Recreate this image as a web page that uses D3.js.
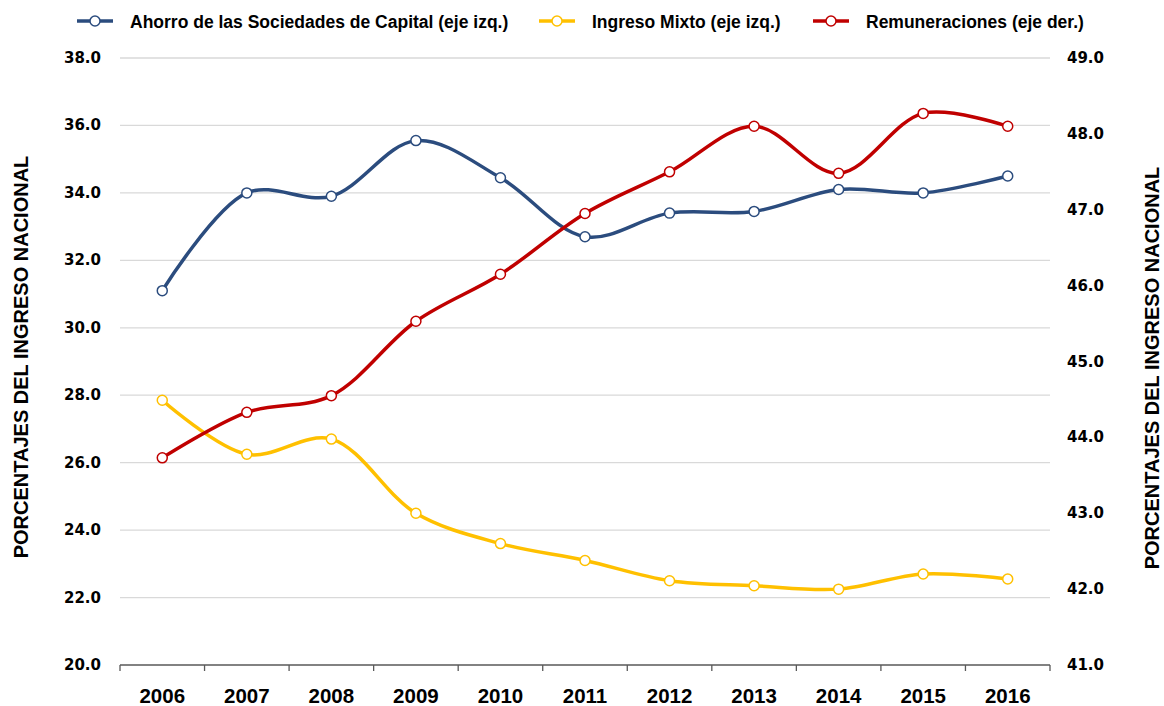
<!DOCTYPE html>
<html>
<head>
<meta charset="utf-8">
<script src="https://cdn.jsdelivr.net/npm/d3@7"></script>
<style>
  body { margin: 0; background: #fff; }
  svg { display: block; }
</style>
</head>
<body>
<svg id="chart" width="1164" height="706"></svg>
<script>
const years = ["2006","2007","2008","2009","2010","2011","2012","2013","2014","2015","2016"];
const ahorro = [31.1, 34.0, 33.9, 35.55, 34.45, 32.7, 33.4, 33.45, 34.1, 34.0, 34.5];
const ingresoMixto = [27.85, 26.25, 26.7, 24.5, 23.6, 23.1, 22.5, 22.35, 22.25, 22.7, 22.55];
const remuneraciones = [43.73, 44.33, 44.55, 45.53, 46.15, 46.95, 47.5, 48.1, 47.48, 48.27, 48.1];
const leftTicks = [20, 22, 24, 26, 28, 30, 32, 34, 36, 38];
const rightTicks = [41, 42, 43, 44, 45, 46, 47, 48, 49];

const svg = d3.select("#chart");
const plotLeft = 120, plotRight = 1050, plotTop = 58, plotBottom = 665;

const x = d3.scaleBand().domain(years).range([plotLeft, plotRight]);
const yL = d3.scaleLinear().domain([20, 38]).range([plotBottom, plotTop]);
const yR = d3.scaleLinear().domain([41, 49]).range([plotBottom, plotTop]);

const blue = "#2B4C7E", yellow = "#FFC000", red = "#C00000";
const sans = "'Liberation Sans', Arial, sans-serif";

// gridlines
svg.append("g")
    .selectAll("line")
    .data(leftTicks.slice(1))
    .enter()
    .append("line")
    .attr("x1", plotLeft).attr("x2", plotRight)
    .attr("y1", d => yL(d)).attr("y2", d => yL(d))
    .attr("stroke", "#D9D9D9")
    .attr("stroke-width", 1.3);

// bottom axis
const xAxis = svg.append("g").attr("transform", "translate(0," + plotBottom + ")");
xAxis.append("line")
    .attr("x1", plotLeft).attr("x2", plotRight)
    .attr("stroke", "#595959").attr("stroke-width", 1.3);
xAxis.selectAll("line.tick")
    .data(years.concat(["end"]))
    .enter()
    .append("line")
    .attr("class", "tick")
    .attr("x1", (d, i) => plotLeft + i * x.bandwidth())
    .attr("x2", (d, i) => plotLeft + i * x.bandwidth())
    .attr("y1", 0).attr("y2", 6)
    .attr("stroke", "#595959").attr("stroke-width", 1.3);
xAxis.selectAll("text")
    .data(years)
    .enter()
    .append("text")
    .attr("x", d => x(d) + x.bandwidth() / 2)
    .attr("y", 38)
    .attr("text-anchor", "middle")
    .style("font-family", sans)
    .style("font-weight", "bold")
    .style("font-size", "20.5px")
    .text(d => d);

// left tick labels
svg.append("g")
    .selectAll("text")
    .data(leftTicks)
    .enter()
    .append("text")
    .attr("x", 101)
    .attr("y", d => yL(d) + 5)
    .attr("text-anchor", "end")
    .style("font-family", "'DejaVu Sans', sans-serif")
    .style("font-weight", "bold")
    .style("font-size", "15px")
    .text(d => d.toFixed(1));

// right tick labels
svg.append("g")
    .selectAll("text")
    .data(rightTicks)
    .enter()
    .append("text")
    .attr("x", 1067)
    .attr("y", d => yR(d) + 5)
    .attr("text-anchor", "start")
    .style("font-family", "'DejaVu Sans', sans-serif")
    .style("font-weight", "bold")
    .style("font-size", "15px")
    .text(d => d.toFixed(1));

// axis titles
svg.append("text")
    .attr("transform", "translate(28,357) rotate(-90)")
    .attr("text-anchor", "middle")
    .style("font-family", sans)
    .style("font-weight", "bold")
    .style("font-size", "20px")
    .text("PORCENTAJES DEL INGRESO NACIONAL");
svg.append("text")
    .attr("transform", "translate(1159,368) rotate(-90)")
    .attr("text-anchor", "middle")
    .style("font-family", sans)
    .style("font-weight", "bold")
    .style("font-size", "20px")
    .text("PORCENTAJES DEL INGRESO NACIONAL");

// series
const series = [
    { values: ahorro, y: yL, color: blue },
    { values: ingresoMixto, y: yL, color: yellow },
    { values: remuneraciones, y: yR, color: red }
];

series.forEach(s => {
    const line = d3.line()
        .x((d, i) => x(years[i]) + x.bandwidth() / 2)
        .y(d => s.y(d))
        .curve(d3.curveCatmullRom.alpha(0.5));
    svg.append("path")
        .datum(s.values)
        .attr("d", line)
        .attr("fill", "none")
        .attr("stroke", s.color)
        .attr("stroke-width", 3.5);
    svg.append("g")
        .selectAll("circle")
        .data(s.values)
        .enter()
        .append("circle")
        .attr("cx", (d, i) => x(years[i]) + x.bandwidth() / 2)
        .attr("cy", d => s.y(d))
        .attr("r", 5)
        .attr("fill", "#fff")
        .attr("stroke", s.color)
        .attr("stroke-width", 1.5);
});

// legend
const legendItems = [
    { label: "Ahorro de las Sociedades de Capital (eje izq.)", color: blue, x: 77 },
    { label: "Ingreso Mixto (eje izq.)", color: yellow, x: 539 },
    { label: "Remuneraciones (eje der.)", color: red, x: 813 }
];
const lg = svg.append("g").attr("transform", "translate(0,21)");
legendItems.forEach(item => {
    lg.append("line")
        .attr("x1", item.x).attr("x2", item.x + 36)
        .attr("stroke", item.color).attr("stroke-width", 3.5);
    lg.append("circle")
        .attr("cx", item.x + 18).attr("cy", 0).attr("r", 5)
        .attr("fill", "#fff").attr("stroke", item.color).attr("stroke-width", 1.5);
    lg.append("text")
        .attr("x", item.x + 53)
        .attr("y", 6.5)
        .style("font-family", sans)
        .style("font-weight", "bold")
        .style("font-size", "17.5px")
        .text(item.label);
});
</script>
</body>
</html>
